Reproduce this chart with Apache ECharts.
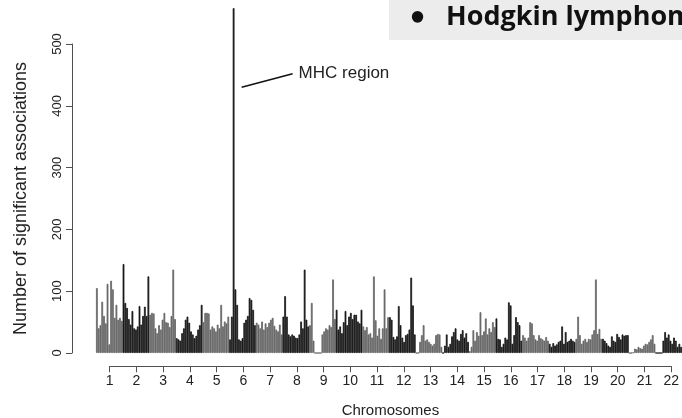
<!DOCTYPE html>
<html><head><meta charset="utf-8">
<script src="https://cdn.jsdelivr.net/npm/echarts@6/dist/echarts.min.js"></script>
<style>html,body{margin:0;padding:0;background:#fff}#c{width:682px;height:418px}</style>
</head><body><div id="c"></div>
<script>
const chromosomes = ['1','2','3','4','5','6','7','8','9','10','11','12','13','14','15','16','17','18','19','20','21','22'];
const chr1 = [105, 40, 45, 83, 60, 48, 112, 14, 117, 103, 57, 78, 54, 57, 52];
const chr2 = [144, 81, 73, 55, 46, 68, 40, 38, 43, 76, 46, 60, 75, 60, 124];
const chr3 = [62, 65, 64, 40, 32, 45, 38, 54, 65, 50, 49, 42, 60, 135, 55];
const chr4 = [24, 22, 20, 32, 40, 54, 59, 49, 35, 30, 24, 28, 38, 45, 78];
const chr5 = [50, 65, 65, 64, 38, 43, 40, 35, 46, 40, 78, 43, 51, 48, 59];
const chr6 = [22, 59, 558, 103, 78, 22, 20, 24, 49, 54, 60, 89, 86, 70, 45];
const chr7 = [49, 46, 40, 51, 38, 48, 42, 49, 54, 57, 44, 38, 35, 46, 30];
const chr8 = [59, 92, 59, 30, 27, 30, 28, 25, 24, 30, 51, 40, 135, 54, 43];
const chr9 = [45, 81, 20, 0, 0, 0, 0, 30, 35, 40, 38, 45, 42, 119, 55];
const chr10 = [70, 38, 43, 32, 50, 68, 45, 59, 65, 55, 62, 62, 51, 48, 70];
const chr11 = [43, 37, 42, 30, 32, 25, 124, 53, 28, 40, 23, 40, 103, 40, 58];
const chr12 = [58, 54, 26, 22, 27, 76, 45, 25, 18, 29, 31, 38, 122, 77, 30];
const chr13 = [0, 0, 18, 29, 45, 20, 22, 18, 15, 12, 15, 29, 31, 30, 10];
const chr14 = [0, 12, 30, 10, 15, 27, 34, 40, 22, 20, 31, 37, 25, 32, 18];
const chr15 = [3, 10, 37, 20, 34, 28, 66, 29, 35, 56, 30, 40, 34, 50, 42];
const chr16 = [56, 23, 22, 10, 15, 25, 22, 82, 77, 15, 29, 58, 50, 45, 20];
const chr17 = [29, 25, 20, 25, 50, 48, 29, 22, 20, 29, 24, 22, 20, 26, 20];
const chr18 = [15, 10, 16, 12, 14, 18, 20, 43, 15, 34, 18, 20, 23, 20, 18];
const chr19 = [23, 59, 29, 15, 20, 23, 18, 23, 22, 30, 37, 119, 31, 39, 23];
const chr20 = [23, 20, 16, 12, 10, 27, 20, 18, 31, 26, 22, 30, 28, 29, 29];
const chr21 = [0, 0, 1, 7, 6, 10, 8, 7, 12, 15, 14, 18, 22, 29, 15];
const chr22 = [0, 0, 0, 0, 20, 34, 25, 30, 20, 15, 25, 20, 10, 15, 10];
const yTicks = [0, 100, 200, 300, 400, 500];
const mhcText = 'MHC region';
const panelText = 'Hodgkin lymphoma';
const xTitle = 'Chromosomes';
const yTitle = 'Number of significant associations';

(function () {
const perChrom = [chr1,chr2,chr3,chr4,chr5,chr6,chr7,chr8,chr9,chr10,chr11,chr12,chr13,chr14,chr15,chr16,chr17,chr18,chr19,chr20,chr21,chr22];
const cats = [], vals = [], items = [];
perChrom.forEach((arr, ci) => arr.forEach((v, j) => {
  const c = ci % 2 === 0 ? '#666666' : '#161616';
  cats.push(ci + '_' + j); vals.push(v);
  items.push({value: v, itemStyle: {color: c, borderColor: c, borderWidth: 0.8}});
}));
const mhcIndex = vals.indexOf(Math.max.apply(null, vals));

const blockW = 27.2;
const chart = echarts.init(document.getElementById('c'), null, {renderer: 'canvas'});
const axisCol = '#505050';
const txtCol = '#222';
const font = 'Liberation Sans, Arial, Helvetica, sans-serif';
chart.setOption({
  animation: false,
  backgroundColor: '#fff',
  grid: [
    {left: 96, top: 44, width: 22 * blockW, height: 309},
    {left: 96 + blockW / 2, top: 366, width: 21 * blockW, height: 1}
  ],
  xAxis: [
    {type: 'category', gridIndex: 0, data: cats, show: false, boundaryGap: true},
    {type: 'value', gridIndex: 1, min: 1, max: 22, interval: 1, position: 'bottom',
     axisLine: {show: true, lineStyle: {color: axisCol, width: 1}},
     axisTick: {show: true, length: 6, lineStyle: {color: axisCol}},
     splitLine: {show: false},
     axisLabel: {fontSize: 14, color: txtCol, fontFamily: font, margin: 8, formatter: v => chromosomes[v - 1]},
     name: xTitle, nameLocation: 'middle', nameGap: 37,
     nameTextStyle: {fontSize: 15, color: txtCol, fontFamily: font}}
  ],
  yAxis: [
    {type: 'value', gridIndex: 0, min: yTicks[0], max: yTicks[yTicks.length - 1], interval: 100, offset: 24,
     axisLine: {show: true, lineStyle: {color: axisCol, width: 1}},
     axisTick: {show: true, length: 6, lineStyle: {color: axisCol}},
     splitLine: {show: false},
     axisLabel: {rotate: 90, fontSize: 13, color: txtCol, fontFamily: font, margin: 8},
     name: yTitle, nameLocation: 'middle', nameRotate: 90, nameGap: 42,
     nameTextStyle: {fontSize: 18, color: txtCol, fontFamily: font}},
    {type: 'value', gridIndex: 1, show: false}
  ],
  series: [{
    type: 'bar', xAxisIndex: 0, yAxisIndex: 0, data: items, clip: false,
    barCategoryGap: '0%', barWidth: '100%'
  }]
});

const pA = chart.convertToPixel({gridIndex: 0}, [mhcIndex, 430]);
const pB = chart.convertToPixel({gridIndex: 0}, [mhcIndex, 452]);
const x0 = pA[0] + 8, y0 = pA[1];
const x1 = pA[0] + 59, y1 = pB[1];
chart.setOption({
  graphic: [
    {type: 'rect', shape: {x: 389, y: 0, width: 300, height: 40}, style: {fill: '#ececec'}, z: -1},
    {type: 'text', x: 410, y: 17, style: {text: '•', font: 'bold 26px Lato, sans-serif', fill: '#111', verticalAlign: 'middle'}},
    {type: 'text', x: 446, y: 17, style: {text: panelText, font: 'bold 27px "Open Sans", Lato, sans-serif', fill: '#111', verticalAlign: 'middle'}},
    {type: 'line', shape: {x1: x0, y1: y0, x2: x1, y2: y1}, style: {stroke: '#111', lineWidth: 1.5}},
    {type: 'text', x: x1 + 6, y: y1, style: {text: mhcText, font: '17px ' + font, fill: txtCol, verticalAlign: 'middle'}}
  ]
});
})();
</script></body></html>
